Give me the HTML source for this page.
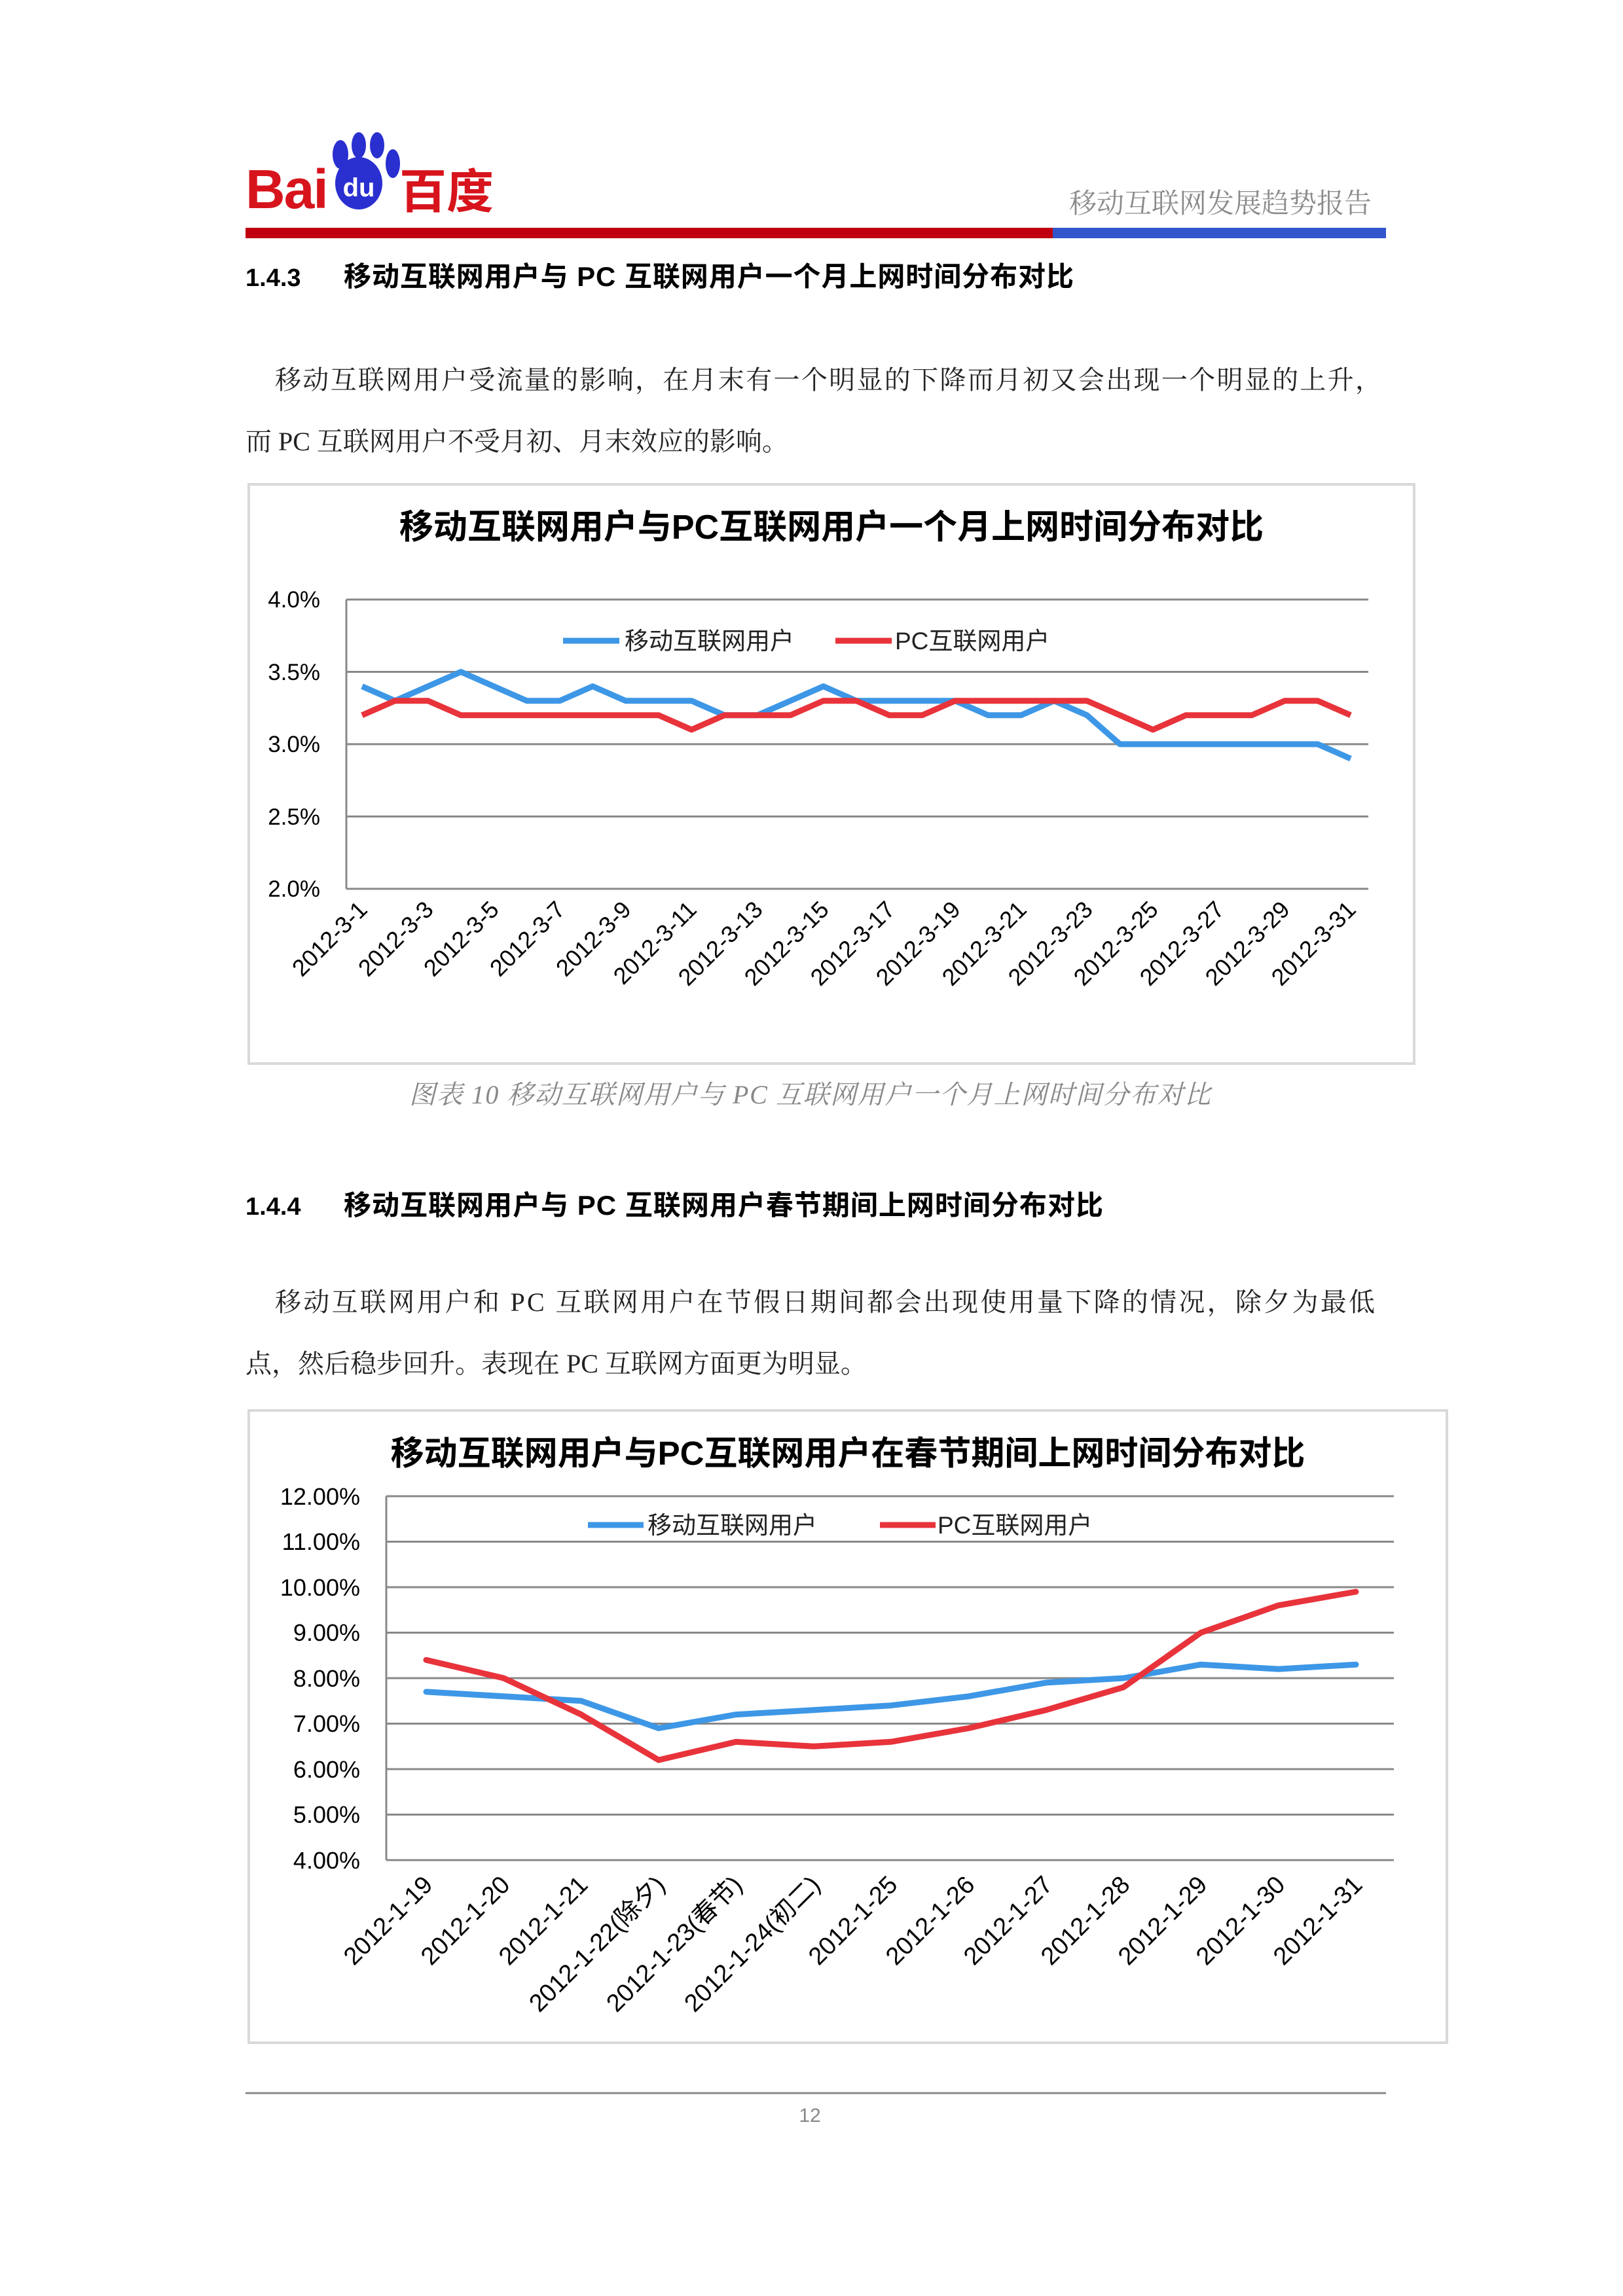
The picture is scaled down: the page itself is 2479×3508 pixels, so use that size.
<!DOCTYPE html>
<html><head><meta charset="utf-8"><style>
html,body{margin:0;padding:0;background:#fff}
svg{display:block}
.cn{font-family:"Liberation Serif","Noto Serif CJK SC",serif}
.sans{font-family:"Liberation Sans","Noto Sans CJK SC",sans-serif}
</style></head><body>
<svg width="2479" height="3508" viewBox="0 0 2479 3508" xmlns="http://www.w3.org/2000/svg">
<rect width="2479" height="3508" fill="#fff"/>
<!-- header -->
<text x="375" y="318" class="sans" font-size="84" font-weight="bold" fill="#d7141c" letter-spacing="-2">Bai</text>
<g fill="#2a2fd0">
<ellipse cx="548" cy="280" rx="36" ry="40"/>
<ellipse cx="520" cy="236" rx="12" ry="22"/>
<ellipse cx="548" cy="222" rx="11" ry="20"/>
<ellipse cx="576" cy="222" rx="11" ry="20"/>
<ellipse cx="600" cy="250" rx="11" ry="22"/>
</g>
<text x="548" y="300" text-anchor="middle" class="sans" font-size="40" font-weight="bold" fill="#fff">du</text>
<text x="610" y="318" class="sans" font-size="72" font-weight="bold" fill="#d7141c">百度</text>
<text x="2095" y="325" text-anchor="end" class="cn" font-size="42" fill="#8a8a8a">移动互联网发展趋势报告</text>
<rect x="375" y="348" width="1233" height="16" fill="#c00010"/>
<rect x="1608" y="348" width="509" height="16" fill="#3355cc"/>
<!-- section 1.4.3 -->
<text x="375" y="437" class="sans" font-size="38" font-weight="bold" fill="#000">1.4.3</text>
<text x="525" y="437" class="sans" font-size="42" font-weight="bold" fill="#000" textLength="1115">移动互联网用户与 PC 互联网用户一个月上网时间分布对比</text>
<text x="420" y="594" class="cn" font-size="40" fill="#222" textLength="1690">移动互联网用户受流量的影响，在月末有一个明显的下降而月初又会出现一个明显的上升，</text>
<text x="375" y="688" class="cn" font-size="40" fill="#222">而 PC 互联网用户不受月初、月末效应的影响。</text>
<!-- chart 1 -->
<rect x="380" y="740" width="1780" height="885" fill="#fff" stroke="#d9d9d9" stroke-width="4"/>
<text x="1270" y="823" text-anchor="middle" class="sans" font-size="52" font-weight="bold" fill="#000">移动互联网用户与PC互联网用户一个月上网时间分布对比</text>
<g stroke="#888" stroke-width="3">
<line x1="529" y1="916" x2="2090" y2="916"/><line x1="529" y1="1026.5" x2="2090" y2="1026.5"/>
<line x1="529" y1="1137" x2="2090" y2="1137"/><line x1="529" y1="1247.5" x2="2090" y2="1247.5"/>
<line x1="529" y1="1358" x2="2090" y2="1358"/><line x1="529" y1="916" x2="529" y2="1358"/>
</g>
<g class="sans" font-size="35" fill="#000" text-anchor="end">
<text x="489" y="928">4.0%</text><text x="489" y="1039">3.5%</text><text x="489" y="1149">3.0%</text><text x="489" y="1260">2.5%</text><text x="489" y="1370">2.0%</text>
</g>
<line x1="860" y1="979" x2="946" y2="979" stroke="#3d97e6" stroke-width="9"/>
<text x="954" y="992" class="sans" font-size="37" fill="#222">移动互联网用户</text>
<line x1="1276" y1="979" x2="1362" y2="979" stroke="#e8333b" stroke-width="9"/>
<text x="1367" y="992" class="sans" font-size="37" fill="#222">PC互联网用户</text>
<polyline fill="none" stroke="#3d97e6" stroke-width="9" stroke-linejoin="round" points="553,1048.6 603.3,1070.7 653.7,1048.6 704,1026.5 754.3,1048.6 804.7,1070.7 855,1070.7 905.3,1048.6 955.6,1070.7 1006,1070.7 1056.3,1070.7 1106.6,1092.8 1157,1092.8 1207.3,1070.7 1257.6,1048.6 1308,1070.7 1358.3,1070.7 1408.6,1070.7 1459,1070.7 1509.3,1092.8 1559.6,1092.8 1610,1070.7 1660.3,1092.8 1710.6,1137 1761,1137 1811.3,1137 1861.6,1137 1912,1137 1962.3,1137 2012.6,1137 2063,1159.1"/>
<polyline fill="none" stroke="#e8333b" stroke-width="9" stroke-linejoin="round" points="553,1092.8 603.3,1070.7 653.7,1070.7 704,1092.8 754.3,1092.8 804.7,1092.8 855,1092.8 905.3,1092.8 955.6,1092.8 1006,1092.8 1056.3,1114.9 1106.6,1092.8 1157,1092.8 1207.3,1092.8 1257.6,1070.7 1308,1070.7 1358.3,1092.8 1408.6,1092.8 1459,1070.7 1509.3,1070.7 1559.6,1070.7 1610,1070.7 1660.3,1070.7 1710.6,1092.8 1761,1114.9 1811.3,1092.8 1861.6,1092.8 1912,1092.8 1962.3,1070.7 2012.6,1070.7 2063,1092.8"/>
<g class="sans" font-size="36" fill="#000" text-anchor="end">
<text transform="translate(563,1392) rotate(-45)">2012-3-1</text>
<text transform="translate(664,1392) rotate(-45)">2012-3-3</text>
<text transform="translate(764,1392) rotate(-45)">2012-3-5</text>
<text transform="translate(865,1392) rotate(-45)">2012-3-7</text>
<text transform="translate(966,1392) rotate(-45)">2012-3-9</text>
<text transform="translate(1066,1392) rotate(-45)">2012-3-11</text>
<text transform="translate(1167,1392) rotate(-45)">2012-3-13</text>
<text transform="translate(1268,1392) rotate(-45)">2012-3-15</text>
<text transform="translate(1369,1392) rotate(-45)">2012-3-17</text>
<text transform="translate(1469,1392) rotate(-45)">2012-3-19</text>
<text transform="translate(1570,1392) rotate(-45)">2012-3-21</text>
<text transform="translate(1671,1392) rotate(-45)">2012-3-23</text>
<text transform="translate(1771,1392) rotate(-45)">2012-3-25</text>
<text transform="translate(1872,1392) rotate(-45)">2012-3-27</text>
<text transform="translate(1972,1392) rotate(-45)">2012-3-29</text>
<text transform="translate(2073,1392) rotate(-45)">2012-3-31</text>
</g>
<text x="1237" y="1686" text-anchor="middle" class="cn" font-size="40" font-style="italic" fill="#888" textLength="1224">图表 10 移动互联网用户与 PC 互联网用户一个月上网时间分布对比</text>
<!-- section 1.4.4 -->
<text x="375" y="1856" class="sans" font-size="38" font-weight="bold" fill="#000">1.4.4</text>
<text x="525" y="1856" class="sans" font-size="42" font-weight="bold" fill="#000" textLength="1160">移动互联网用户与 PC 互联网用户春节期间上网时间分布对比</text>
<text x="420" y="2003" class="cn" font-size="40" fill="#222" textLength="1680">移动互联网用户和 PC 互联网用户在节假日期间都会出现使用量下降的情况，除夕为最低</text>
<text x="375" y="2097" class="cn" font-size="40" fill="#222">点，然后稳步回升。表现在 PC 互联网方面更为明显。</text>
<!-- chart 2 -->
<rect x="380" y="2155" width="1830" height="966" fill="#fff" stroke="#d9d9d9" stroke-width="4"/>
<text x="1295" y="2238" text-anchor="middle" class="sans" font-size="51" font-weight="bold" fill="#000">移动互联网用户与PC互联网用户在春节期间上网时间分布对比</text>
<g stroke="#888" stroke-width="3">
<line x1="590" y1="2286" x2="2129" y2="2286"/><line x1="590" y1="2355.5" x2="2129" y2="2355.5"/>
<line x1="590" y1="2425" x2="2129" y2="2425"/><line x1="590" y1="2494.5" x2="2129" y2="2494.5"/>
<line x1="590" y1="2564" x2="2129" y2="2564"/><line x1="590" y1="2633.5" x2="2129" y2="2633.5"/>
<line x1="590" y1="2703" x2="2129" y2="2703"/><line x1="590" y1="2772.5" x2="2129" y2="2772.5"/>
<line x1="590" y1="2842" x2="2129" y2="2842"/><line x1="590" y1="2286" x2="590" y2="2842"/>
</g>
<g class="sans" font-size="36" fill="#000" text-anchor="end">
<text x="550" y="2299">12.00%</text><text x="550" y="2368">11.00%</text><text x="550" y="2438">10.00%</text><text x="550" y="2507">9.00%</text><text x="550" y="2577">8.00%</text><text x="550" y="2646">7.00%</text><text x="550" y="2716">6.00%</text><text x="550" y="2785">5.00%</text><text x="550" y="2855">4.00%</text>
</g>
<line x1="898" y1="2330" x2="983" y2="2330" stroke="#3d97e6" stroke-width="9"/>
<text x="989" y="2343" class="sans" font-size="37" fill="#222">移动互联网用户</text>
<line x1="1344" y1="2330" x2="1429" y2="2330" stroke="#e8333b" stroke-width="9"/>
<text x="1432" y="2343" class="sans" font-size="37" fill="#222">PC互联网用户</text>
<polyline fill="none" stroke="#3d97e6" stroke-width="9" stroke-linejoin="round" stroke-linecap="round" points="651,2584.9 769.3,2591.8 887.7,2598.8 1006,2640.5 1124.3,2619.6 1242.7,2612.7 1361,2605.7 1479.3,2591.8 1597.7,2570.9 1716,2564 1834.3,2543.2 1952.7,2550.1 2071,2543.2"/>
<polyline fill="none" stroke="#e8333b" stroke-width="9" stroke-linejoin="round" stroke-linecap="round" points="651,2536.2 769.3,2564 887.7,2619.6 1006,2689.1 1124.3,2661.3 1242.7,2668.3 1361,2661.3 1479.3,2640.5 1597.7,2612.7 1716,2577.9 1834.3,2494.5 1952.7,2452.8 2071,2432"/>
<g class="sans" font-size="38" fill="#000" text-anchor="end">
<text transform="translate(663,2882) rotate(-45)">2012-1-19</text>
<text transform="translate(781,2882) rotate(-45)">2012-1-20</text>
<text transform="translate(900,2882) rotate(-45)">2012-1-21</text>
<text transform="translate(1018,2882) rotate(-45)">2012-1-22(除夕)</text>
<text transform="translate(1136,2882) rotate(-45)">2012-1-23(春节)</text>
<text transform="translate(1255,2882) rotate(-45)">2012-1-24(初二)</text>
<text transform="translate(1373,2882) rotate(-45)">2012-1-25</text>
<text transform="translate(1491,2882) rotate(-45)">2012-1-26</text>
<text transform="translate(1610,2882) rotate(-45)">2012-1-27</text>
<text transform="translate(1728,2882) rotate(-45)">2012-1-28</text>
<text transform="translate(1846,2882) rotate(-45)">2012-1-29</text>
<text transform="translate(1965,2882) rotate(-45)">2012-1-30</text>
<text transform="translate(2083,2882) rotate(-45)">2012-1-31</text>
</g>
<!-- footer -->
<line x1="375" y1="3198" x2="2117" y2="3198" stroke="#888" stroke-width="3"/>
<text x="1237" y="3242" text-anchor="middle" class="sans" font-size="30" fill="#888">12</text>
</svg>
</body></html>
